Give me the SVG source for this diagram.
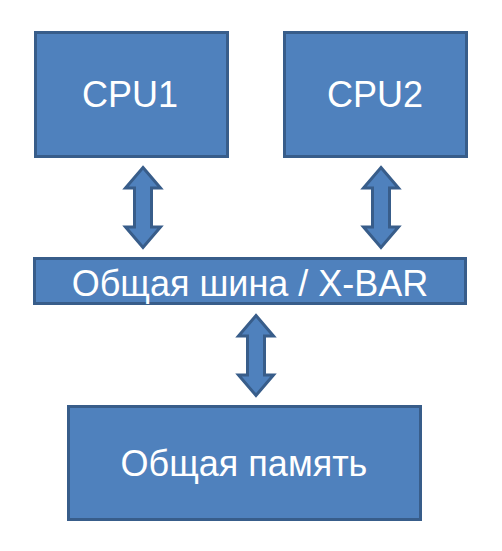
<svg xmlns="http://www.w3.org/2000/svg" width="502" height="551" viewBox="0 0 502 551">
<style>
.box{fill:#4f81bd;stroke:#385d8a;stroke-width:3}
.arr{fill:#4f81bd;stroke:#385d8a;stroke-width:3;stroke-linejoin:miter}
.lbl{font-family:"Liberation Sans",Arial,sans-serif;font-size:36px;fill:#ffffff;text-anchor:middle}
</style>
<rect width="502" height="551" fill="#ffffff"/>
<g id="connectors">
<path class="arr" d="M143,167.5 L160.5,188 L151.5,188 L151.5,227 L160.5,227 L143,247.5 L125.5,227 L134.5,227 L134.5,188 L125.5,188 Z"/>
<path class="arr" d="M381,167.5 L398.5,188 L389.5,188 L389.5,227 L398.5,227 L381,247.5 L363.5,227 L372.5,227 L372.5,188 L363.5,188 Z"/>
<path class="arr" d="M256,315.5 L273.5,336 L264.5,336 L264.5,375 L273.5,375 L256,395.5 L238.5,375 L247.5,375 L247.5,336 L238.5,336 Z"/>
</g>
<g id="cpu1">
<rect class="box" x="35.5" y="32.5" width="192" height="124"/>
<text class="lbl" x="130" y="107">CPU1</text>
</g>
<g id="cpu2">
<rect class="box" x="284.5" y="32.5" width="182" height="124"/>
<text class="lbl" x="375" y="107">CPU2</text>
</g>
<g id="bus">
<rect class="box" x="34.5" y="258.5" width="431" height="45"/>
<text class="lbl" x="250" y="296">Общая шина / X-BAR</text>
</g>
<g id="memory">
<rect class="box" x="68.5" y="406.5" width="352" height="113"/>
<text class="lbl" x="244" y="476">Общая память</text>
</g>
</svg>
